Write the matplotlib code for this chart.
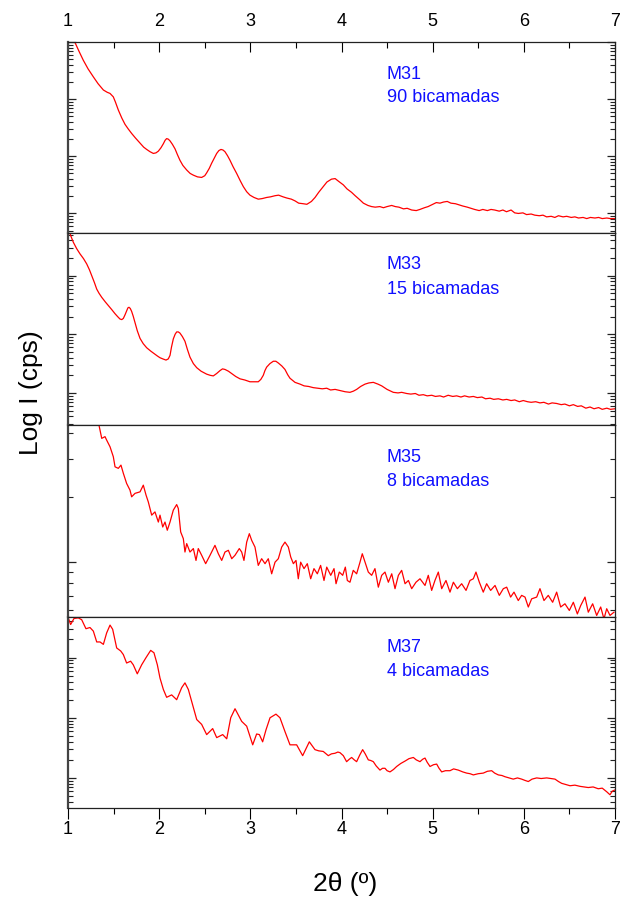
import numpy as np
import matplotlib
matplotlib.use("Agg")
import matplotlib.pyplot as plt
from matplotlib.ticker import FixedLocator, NullFormatter, MultipleLocator

plt.rcParams['font.family'] = ['Liberation Sans', 'DejaVu Sans']

# Low-angle XRD scans: 2theta (deg) and log10 of intensity (cps)
m31_2theta = [1.077, 1.12, 1.168, 1.22, 1.278, 1.33, 1.388, 1.43, 1.461, 1.497,
              1.52, 1.552, 1.59, 1.625, 1.66, 1.698, 1.74, 1.790, 1.83, 1.863,
              1.90, 1.936, 1.965, 1.991, 2.02, 2.046, 2.065, 2.082, 2.10, 2.119,
              2.145, 2.174, 2.20, 2.228, 2.26, 2.302, 2.34, 2.375, 2.42, 2.466,
              2.50, 2.521, 2.55, 2.576, 2.605, 2.631, 2.655, 2.678, 2.70, 2.722,
              2.75, 2.777, 2.81, 2.850, 2.89, 2.923, 2.96, 2.996, 3.04, 3.087,
              3.13, 3.18, 3.22, 3.27, 3.31, 3.36, 3.40, 3.45, 3.49, 3.53,
              3.58, 3.62, 3.67, 3.71, 3.75, 3.80, 3.84, 3.89, 3.93, 3.97,
              4.02, 4.06, 4.11, 4.15, 4.20, 4.24, 4.29, 4.33, 4.37, 4.42,
              4.46, 4.50, 4.55, 4.59, 4.63, 4.68, 4.72, 4.77, 4.82, 4.86,
              4.91, 4.95, 5.00, 5.04, 5.08, 5.12, 5.16, 5.20, 5.25, 5.29,
              5.33, 5.38, 5.42, 5.46, 5.51, 5.55, 5.60, 5.64, 5.68, 5.73,
              5.77, 5.81, 5.86, 5.90, 5.94, 5.99, 6.03, 6.08, 6.12, 6.17,
              6.21, 6.25, 6.30, 6.34, 6.38, 6.43, 6.47, 6.52, 6.56, 6.60,
              6.65, 6.69, 6.73, 6.78, 6.82, 6.86, 6.91, 6.95, 7.00]
m31_logI = [3.99, 3.84, 3.68, 3.53, 3.39, 3.27, 3.16, 3.12, 3.10, 3.04,
            2.95, 2.81, 2.67, 2.56, 2.48, 2.40, 2.32, 2.23, 2.16, 2.12,
            2.08, 2.05, 2.06, 2.09, 2.15, 2.22, 2.28, 2.31, 2.30, 2.27,
            2.21, 2.13, 2.03, 1.93, 1.84, 1.76, 1.70, 1.67, 1.64, 1.63,
            1.66, 1.71, 1.79, 1.88, 1.97, 2.05, 2.10, 2.12, 2.11, 2.08,
            2.01, 1.93, 1.82, 1.70, 1.57, 1.47, 1.38, 1.32, 1.28, 1.25,
            1.26, 1.28, 1.29, 1.31, 1.32, 1.29, 1.27, 1.25, 1.22, 1.18,
            1.17, 1.16, 1.21, 1.28, 1.37, 1.47, 1.55, 1.60, 1.61, 1.56,
            1.50, 1.43, 1.37, 1.31, 1.24, 1.18, 1.14, 1.12, 1.11, 1.12,
            1.10, 1.12, 1.14, 1.12, 1.11, 1.08, 1.09, 1.06, 1.05, 1.07,
            1.10, 1.12, 1.16, 1.19, 1.18, 1.20, 1.21, 1.18, 1.17, 1.15,
            1.13, 1.11, 1.09, 1.07, 1.05, 1.07, 1.05, 1.07, 1.06, 1.04,
            1.06, 1.03, 1.06, 1.01, 1.00, 1.01, 0.98, 0.99, 0.97, 0.96,
            0.97, 0.94, 0.95, 0.93, 0.96, 0.94, 0.95, 0.93, 0.94, 0.92,
            0.93, 0.91, 0.93, 0.92, 0.93, 0.91, 0.92, 0.91, 0.91]

m33_2theta = [1.003, 1.03, 1.058, 1.095, 1.132, 1.17, 1.205, 1.235, 1.260, 1.29,
              1.315, 1.34, 1.370, 1.41, 1.443, 1.48, 1.516, 1.545, 1.570, 1.59,
              1.607, 1.625, 1.643, 1.657, 1.669, 1.683, 1.698, 1.715, 1.735, 1.76,
              1.790, 1.825, 1.863, 1.91, 1.954, 1.98, 2.009, 2.04, 2.075, 2.10,
              2.119, 2.135, 2.155, 2.175, 2.192, 2.21, 2.228, 2.255, 2.283, 2.31,
              2.338, 2.375, 2.412, 2.46, 2.521, 2.56, 2.594, 2.63, 2.667, 2.695,
              2.722, 2.76, 2.796, 2.84, 2.887, 2.94, 2.996, 3.04, 3.087, 3.115,
              3.142, 3.16, 3.179, 3.215, 3.252, 3.28, 3.307, 3.345, 3.380, 3.41,
              3.435, 3.49, 3.545, 3.59, 3.64, 3.690, 3.74, 3.79, 3.838, 3.88,
              3.93, 3.983, 4.04, 4.093, 4.13, 4.166, 4.21, 4.258, 4.30, 4.349,
              4.40, 4.441, 4.50, 4.568, 4.62, 4.66, 4.715, 4.76, 4.81, 4.85,
              4.897, 4.94, 4.99, 5.03, 5.080, 5.12, 5.17, 5.22, 5.263, 5.31,
              5.35, 5.40, 5.446, 5.49, 5.54, 5.58, 5.629, 5.67, 5.72, 5.77,
              5.812, 5.86, 5.90, 5.95, 5.994, 6.04, 6.08, 6.13, 6.177, 6.22,
              6.27, 6.31, 6.360, 6.41, 6.45, 6.50, 6.543, 6.59, 6.63, 6.68,
              6.726, 6.77, 6.82, 6.86, 6.91, 6.95, 7.00]
m33_logI = [3.80, 3.68, 3.57, 3.46, 3.37, 3.29, 3.20, 3.10, 3.00, 2.88,
            2.77, 2.70, 2.63, 2.55, 2.49, 2.42, 2.35, 2.30, 2.26, 2.25,
            2.27, 2.33, 2.40, 2.45, 2.46, 2.44, 2.39, 2.31, 2.20, 2.06,
            1.93, 1.84, 1.77, 1.71, 1.66, 1.63, 1.60, 1.58, 1.56, 1.58,
            1.64, 1.78, 1.92, 2.00, 2.04, 2.04, 2.02, 1.96, 1.88, 1.74,
            1.61, 1.50, 1.43, 1.37, 1.32, 1.30, 1.29, 1.33, 1.38, 1.41,
            1.40, 1.37, 1.33, 1.28, 1.24, 1.22, 1.19, 1.19, 1.19, 1.23,
            1.30, 1.38, 1.44, 1.50, 1.54, 1.54, 1.51, 1.46, 1.40, 1.31,
            1.25, 1.18, 1.15, 1.12, 1.11, 1.09, 1.08, 1.07, 1.08, 1.05,
            1.06, 1.04, 1.02, 1.01, 1.03, 1.06, 1.11, 1.15, 1.17, 1.18,
            1.15, 1.12, 1.06, 1.01, 1.00, 1.01, 0.99, 0.98, 0.99, 0.96,
            0.97, 0.95, 0.96, 0.94, 0.95, 0.93, 0.96, 0.94, 0.95, 0.93,
            0.95, 0.93, 0.94, 0.92, 0.93, 0.90, 0.91, 0.89, 0.90, 0.88,
            0.89, 0.87, 0.88, 0.85, 0.87, 0.85, 0.84, 0.85, 0.83, 0.84,
            0.81, 0.83, 0.82, 0.80, 0.81, 0.78, 0.80, 0.77, 0.78, 0.74,
            0.76, 0.73, 0.75, 0.72, 0.74, 0.72, 0.73]

m35_2theta = [1.333, 1.351, 1.370, 1.406, 1.424, 1.461, 1.497, 1.516, 1.552, 1.581,
              1.607, 1.643, 1.680, 1.698, 1.735, 1.790, 1.826, 1.856, 1.881, 1.918,
              1.954, 1.991, 2.009, 2.039, 2.064, 2.089, 2.119, 2.155, 2.192, 2.210,
              2.236, 2.265, 2.283, 2.302, 2.338, 2.375, 2.404, 2.429, 2.466, 2.510,
              2.558, 2.612, 2.649, 2.686, 2.722, 2.759, 2.796, 2.832, 2.879, 2.905,
              2.930, 2.960, 2.989, 3.015, 3.051, 3.087, 3.124, 3.161, 3.197, 3.234,
              3.271, 3.307, 3.344, 3.380, 3.417, 3.443, 3.472, 3.501, 3.526, 3.552,
              3.589, 3.625, 3.662, 3.698, 3.735, 3.771, 3.808, 3.838, 3.882, 3.918,
              3.940, 3.976, 4.013, 4.042, 4.064, 4.093, 4.129, 4.166, 4.203, 4.228,
              4.258, 4.294, 4.331, 4.367, 4.404, 4.441, 4.477, 4.514, 4.551, 4.587,
              4.624, 4.660, 4.697, 4.734, 4.770, 4.817, 4.861, 4.916, 4.952, 4.989,
              5.025, 5.062, 5.099, 5.146, 5.190, 5.227, 5.271, 5.318, 5.366, 5.409,
              5.446, 5.475, 5.512, 5.555, 5.592, 5.636, 5.684, 5.731, 5.775, 5.812,
              5.855, 5.892, 5.939, 5.976, 6.013, 6.049, 6.086, 6.141, 6.177, 6.221,
              6.268, 6.316, 6.360, 6.404, 6.451, 6.499, 6.543, 6.587, 6.624, 6.671,
              6.707, 6.755, 6.799, 6.843, 6.879, 6.909, 6.945, 6.989]
m35_logI = [3.650, 3.614, 3.575, 3.583, 3.567, 3.536, 3.490, 3.443, 3.436, 3.451,
            3.413, 3.366, 3.335, 3.304, 3.320, 3.327, 3.358, 3.312, 3.280, 3.219,
            3.234, 3.187, 3.219, 3.164, 3.187, 3.149, 3.187, 3.242, 3.268, 3.250,
            3.141, 3.110, 3.048, 3.087, 3.048, 3.064, 3.009, 3.064, 3.033, 2.994,
            3.033, 3.079, 3.040, 3.009, 3.048, 3.056, 3.017, 3.033, 3.064, 3.048,
            3.009, 3.094, 3.133, 3.102, 3.071, 2.986, 3.017, 2.994, 3.017, 2.947,
            3.001, 3.017, 3.071, 3.094, 3.071, 3.025, 2.994, 3.009, 2.924, 3.001,
            2.971, 2.994, 2.924, 2.971, 2.947, 2.986, 2.916, 2.978, 2.940, 2.971,
            2.901, 2.955, 2.940, 2.978, 2.916, 2.908, 2.963, 2.947, 3.001, 3.040,
            3.001, 2.955, 2.940, 2.971, 2.885, 2.940, 2.955, 2.908, 2.947, 2.878,
            2.940, 2.963, 2.901, 2.916, 2.878, 2.908, 2.924, 2.893, 2.940, 2.870,
            2.916, 2.955, 2.878, 2.916, 2.862, 2.908, 2.878, 2.901, 2.870, 2.916,
            2.924, 2.955, 2.908, 2.862, 2.901, 2.870, 2.893, 2.847, 2.878, 2.885,
            2.839, 2.862, 2.823, 2.847, 2.839, 2.793, 2.831, 2.839, 2.878, 2.823,
            2.847, 2.815, 2.862, 2.793, 2.808, 2.777, 2.815, 2.761, 2.800, 2.839,
            2.769, 2.808, 2.754, 2.793, 2.738, 2.785, 2.754, 2.769]

m37_2theta = [1.003, 1.029, 1.066, 1.113, 1.150, 1.197, 1.241, 1.278, 1.315, 1.351,
              1.388, 1.424, 1.461, 1.490, 1.534, 1.578, 1.607, 1.643, 1.687, 1.716,
              1.760, 1.808, 1.856, 1.907, 1.943, 1.980, 2.009, 2.046, 2.082, 2.137,
              2.192, 2.247, 2.283, 2.320, 2.357, 2.412, 2.466, 2.521, 2.587, 2.631,
              2.697, 2.741, 2.785, 2.832, 2.905, 2.960, 3.026, 3.069, 3.099, 3.135,
              3.172, 3.216, 3.281, 3.325, 3.380, 3.435, 3.508, 3.574, 3.647, 3.709,
              3.75, 3.800, 3.855, 3.89, 3.929, 3.96, 3.983, 4.02, 4.056, 4.085,
              4.111, 4.14, 4.166, 4.20, 4.232, 4.26, 4.294, 4.32, 4.349, 4.38,
              4.422, 4.45, 4.477, 4.50, 4.532, 4.57, 4.605, 4.65, 4.697, 4.74,
              4.788, 4.82, 4.861, 4.89, 4.916, 4.94, 4.971, 5.01, 5.044, 5.07,
              5.099, 5.14, 5.190, 5.23, 5.281, 5.33, 5.373, 5.41, 5.446, 5.50,
              5.555, 5.60, 5.647, 5.68, 5.720, 5.76, 5.793, 5.84, 5.884, 5.93,
              5.976, 6.01, 6.049, 6.09, 6.141, 6.19, 6.251, 6.30, 6.342, 6.38,
              6.415, 6.46, 6.507, 6.56, 6.616, 6.66, 6.707, 6.76, 6.816, 6.86,
              6.909, 6.945, 6.97, 7.00]
m37_logI = [3.66, 3.55, 3.65, 3.66, 3.63, 3.48, 3.50, 3.44, 3.26, 3.26,
            3.22, 3.41, 3.54, 3.47, 3.16, 3.11, 3.05, 2.91, 2.94, 2.88,
            2.73, 2.88, 3.00, 3.12, 3.08, 2.88, 2.66, 2.47, 2.34, 2.38,
            2.30, 2.50, 2.58, 2.47, 2.27, 1.97, 1.89, 1.72, 1.82, 1.67,
            1.72, 1.65, 2.00, 2.15, 1.94, 1.86, 1.55, 1.73, 1.72, 1.60,
            1.80, 2.00, 2.06, 2.00, 1.77, 1.55, 1.55, 1.37, 1.60, 1.47,
            1.45, 1.44, 1.37, 1.40, 1.41, 1.43, 1.42, 1.37, 1.27, 1.31,
            1.34, 1.30, 1.27, 1.38, 1.47, 1.40, 1.30, 1.29, 1.27, 1.20,
            1.13, 1.16, 1.16, 1.12, 1.10, 1.14, 1.19, 1.24, 1.28, 1.32,
            1.34, 1.30, 1.27, 1.31, 1.33, 1.26, 1.19, 1.22, 1.23, 1.16,
            1.10, 1.12, 1.12, 1.15, 1.13, 1.10, 1.08, 1.07, 1.05, 1.07,
            1.08, 1.11, 1.12, 1.08, 1.05, 1.04, 1.02, 1.00, 0.98, 1.00,
            0.98, 0.96, 0.94, 0.98, 1.00, 0.99, 1.00, 0.99, 0.98, 0.94,
            0.91, 0.89, 0.87, 0.88, 0.86, 0.85, 0.84, 0.85, 0.82, 0.83,
            0.77, 0.72, 0.78, 0.80]

samples = ["M31", "M33", "M35", "M37"]
bilayers = ["90 bicamadas", "15 bicamadas", "8 bicamadas", "4 bicamadas"]
xs = [m31_2theta, m33_2theta, m35_2theta, m37_2theta]
ys = [m31_logI, m33_logI, m35_logI, m37_logI]
y_ranges = [(0.649, 4.0), (0.453, 3.718), (2.749, 3.637), (0.50, 3.683)]
label_pos = [(0.809, 0.686), (0.816, 0.685), (0.806, 0.679), (0.816, 0.689)]

major_y = [10.0 ** n for n in range(-1, 6)]
minor_y = [k * 10.0 ** n for n in range(-1, 6) for k in range(2, 10)]

fig = plt.figure(figsize=(6.22, 9.02), dpi=100)
gs = fig.add_gridspec(4, 1, left=68/622, right=615/622, top=1-42/902,
                      bottom=1-808/902, hspace=0)

for i in range(4):
    ax = fig.add_subplot(gs[i])
    ax.plot(xs[i], 10 ** np.array(ys[i]), color='#ff0000', lw=0.9)
    ax.set_yscale('log')
    ax.set_xlim(1, 7)
    ax.set_ylim(10 ** y_ranges[i][0], 10 ** y_ranges[i][1])

    ax.xaxis.set_major_locator(MultipleLocator(1))
    ax.xaxis.set_minor_locator(MultipleLocator(0.5))
    ax.yaxis.set_major_locator(FixedLocator(major_y))
    ax.yaxis.set_minor_locator(FixedLocator(minor_y))
    ax.yaxis.set_major_formatter(NullFormatter())
    ax.yaxis.set_minor_formatter(NullFormatter())

    ax.tick_params(axis='y', which='both', direction='in', left=True, right=True,
                   colors='#222222')
    ax.tick_params(axis='y', which='major', length=5.5, width=0.9)
    ax.tick_params(axis='y', which='minor', length=3.5, width=0.8)
    ax.tick_params(axis='x', which='both', direction='out', bottom=True, top=False,
                   labelbottom=(i == 3), labelsize=13, width=0.8)
    ax.tick_params(axis='x', which='major', length=8, pad=1.5)
    ax.tick_params(axis='x', which='minor', length=4.5)
    if i == 0:
        ax.tick_params(axis='x', which='both', top=True, labeltop=True,
                       direction='in')
        ax.tick_params(axis='x', which='major', length=7.5, pad=9)
        ax.tick_params(axis='x', which='minor', length=4.5)
        # keep the bottom ticks pointing outwards
        for t in ax.xaxis.get_major_ticks():
            t.tick1line.set_marker(3)
            t.tick1line.set_markersize(8)
        for t in ax.xaxis.get_minor_ticks():
            t.tick1line.set_marker(3)
            t.tick1line.set_markersize(4.5)

    for side in ['top', 'bottom', 'right']:
        ax.spines[side].set_linewidth(0.9)
        ax.spines[side].set_color('#222222')
    ax.spines['left'].set_linewidth(1.6)
    ax.spines['left'].set_color('#444444')

    ax.text(0.5826, label_pos[i][0], samples[i], transform=ax.transAxes,
            color='#1010ff', fontsize=13, va='baseline', ha='left')
    ax.text(0.5826, label_pos[i][1], bilayers[i], transform=ax.transAxes,
            color='#1010ff', fontsize=13, va='baseline', ha='left')

fig.text(345/622, 1-884/902, "2θ (º)", ha='center', va='center', fontsize=19)
fig.text(31/622, 1-393/902, "Log I (cps)", ha='center', va='center',
         rotation=90, fontsize=19)

fig.savefig("out.png", dpi=100)
